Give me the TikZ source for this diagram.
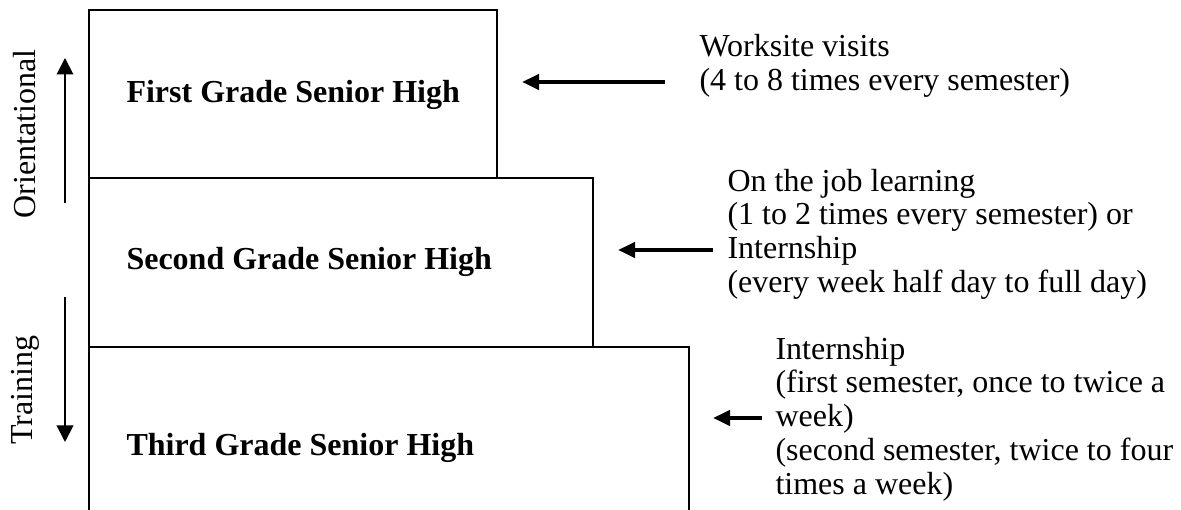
\documentclass[tikz,border=0pt]{standalone}
\usepackage{fontspec}
\setmainfont{Liberation Serif}
\usepackage{tikz}
\usetikzlibrary{arrows.meta,positioning,calc}
\tikzset{
  gradebox/.style={line width=0.7pt},
  gradelbl/.style={font=\fontsize{12.8}{13.5}\selectfont\bfseries,anchor=west,inner sep=0pt},
  notelbl/.style={font=\fontsize{12.8}{13.5}\selectfont,anchor=west,align=left,inner sep=0pt},
  sidelbl/.style={font=\fontsize{12.8}{13.5}\selectfont,rotate=90,inner sep=0pt},
  feedarr/.style={-{Triangle[length=6.8pt,width=6pt]},line width=1.6pt},
  dirarr/.style={-{Triangle[length=6.6pt,width=6.6pt]},line width=0.8pt}
}

\begin{document}
\begin{tikzpicture}[x=0.4pt,y=-0.4pt]
  \useasboundingbox (0,0) rectangle (1181,510);
  % grade boxes (stacked, third one runs off the bottom)
  \draw[gradebox] (89,178) |- (497,10) -- (497,178);
  \draw[gradebox] (89,347) |- (593,178) -- (593,347);
  \draw[gradebox] (89,510) |- (689,347) -- (689,510);
  \node[gradelbl] (g1) at (126,95) {First Grade Senior High};
  \node[gradelbl] (g2) at (126,262) {Second Grade Senior High};
  \node[gradelbl] (g3) at (126,448) {Third Grade Senior High};
  % activities
  \node[notelbl] (n1) at (699,65.5) {Worksite visits\\(4 to 8 times every semester)};
  \node[notelbl] (n2) at (727,234) {On the job learning\\(1 to 2 times every semester) or\\Internship\\(every week half day to full day)};
  \node[notelbl] (n3) at (775,419) {Internship\\(first semester, once to twice a\\week)\\(second semester, twice to four\\times a week)};
  \coordinate (t1) at (522,82);
  \coordinate (t2) at (618,250);
  \coordinate (t3) at (713,418);
  \draw[feedarr] (n1.west |- t1) ++(-34,0) -- (t1);
  \draw[feedarr] (n2.west |- t2) ++(-14,0) -- (t2);
  \draw[feedarr] (n3.west |- t3) ++(-13,0) -- (t3);
  % side direction labels
  \node[sidelbl] (ori) at (25,134) {Orientational};
  \node[sidelbl] (trn) at (25,390) {Training};
  \coordinate (o1) at (65,203);
  \coordinate (o2) at (65,58);
  \coordinate (r1) at (65,297);
  \coordinate (r2) at (65,442);
  \draw[dirarr] (o1) -- (o2);
  \draw[dirarr] (r1) -- (r2);
\end{tikzpicture}
\end{document}
